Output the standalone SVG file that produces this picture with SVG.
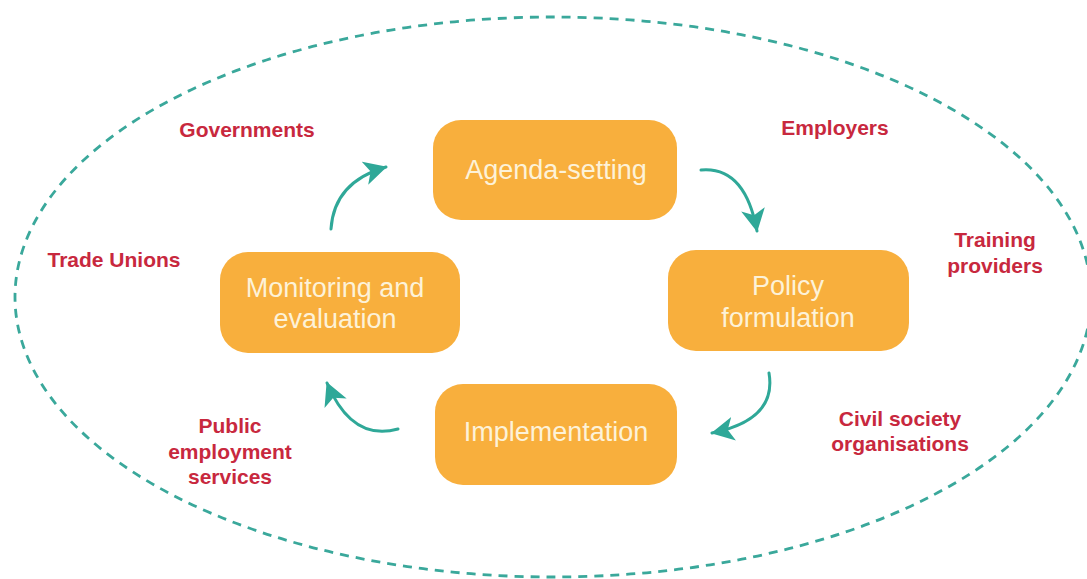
<svg xmlns="http://www.w3.org/2000/svg" width="1087" height="579" viewBox="0 0 1087 579">
<style>
.node rect{fill:#F8AF3D;}
.node text{font-family:"Liberation Sans",Arial,sans-serif;font-size:27px;fill:#FDF2D8;text-anchor:middle;}
.lbl{font-family:"Liberation Sans",Arial,sans-serif;font-size:21px;font-weight:bold;fill:#C8283E;text-anchor:middle;}
.arr{fill:none;stroke:#2FA898;stroke-width:3;stroke-linecap:round;marker-end:url(#ah);}
</style>
<defs>
<marker id="ah" markerUnits="userSpaceOnUse" markerWidth="28" markerHeight="28" refX="22" refY="12" orient="auto">
<path d="M0,0 L23,12 L0,24 L6,12 Z" fill="#2FA898"/>
</marker>
</defs>
<rect width="1087" height="579" fill="#ffffff"/>
<ellipse id="boundary" cx="553" cy="297" rx="538" ry="280" fill="none" stroke="#3AA89B" stroke-width="2.8" stroke-dasharray="9,7"/>
<g id="labels">
<text class="lbl" x="247" y="137">Governments</text>
<text class="lbl" x="835" y="135">Employers</text>
<text class="lbl" x="995" y="247">Training</text>
<text class="lbl" x="995" y="273">providers</text>
<text class="lbl" x="114" y="267">Trade Unions</text>
<text class="lbl" x="900" y="426">Civil society</text>
<text class="lbl" x="900" y="451">organisations</text>
<text class="lbl" x="230" y="433">Public</text>
<text class="lbl" x="230" y="459">employment</text>
<text class="lbl" x="230" y="484">services</text>
</g>
<g id="node-agenda" class="node">
<rect x="433" y="120" width="244" height="100" rx="28"/>
<text x="556" y="179">Agenda-setting</text>
</g>
<g id="node-policy" class="node">
<rect x="668" y="250" width="241" height="101" rx="28"/>
<text x="788" y="295">Policy</text>
<text x="788" y="327">formulation</text>
</g>
<g id="node-implementation" class="node">
<rect x="435" y="384" width="242" height="101" rx="28"/>
<text x="556" y="441">Implementation</text>
</g>
<g id="node-monitoring" class="node">
<rect x="220" y="252" width="240" height="101" rx="28"/>
<text x="335" y="297">Monitoring and</text>
<text x="335" y="328">evaluation</text>
</g>
<g id="connectors">
<path class="arr" d="M331,229 Q334,182 386,167"/>
<path class="arr" d="M701,170 Q745,166 757,231"/>
<path class="arr" d="M769,373 Q777,420 712,433"/>
<path class="arr" d="M398,429 Q352,442 327,383"/>
</g>
</svg>
